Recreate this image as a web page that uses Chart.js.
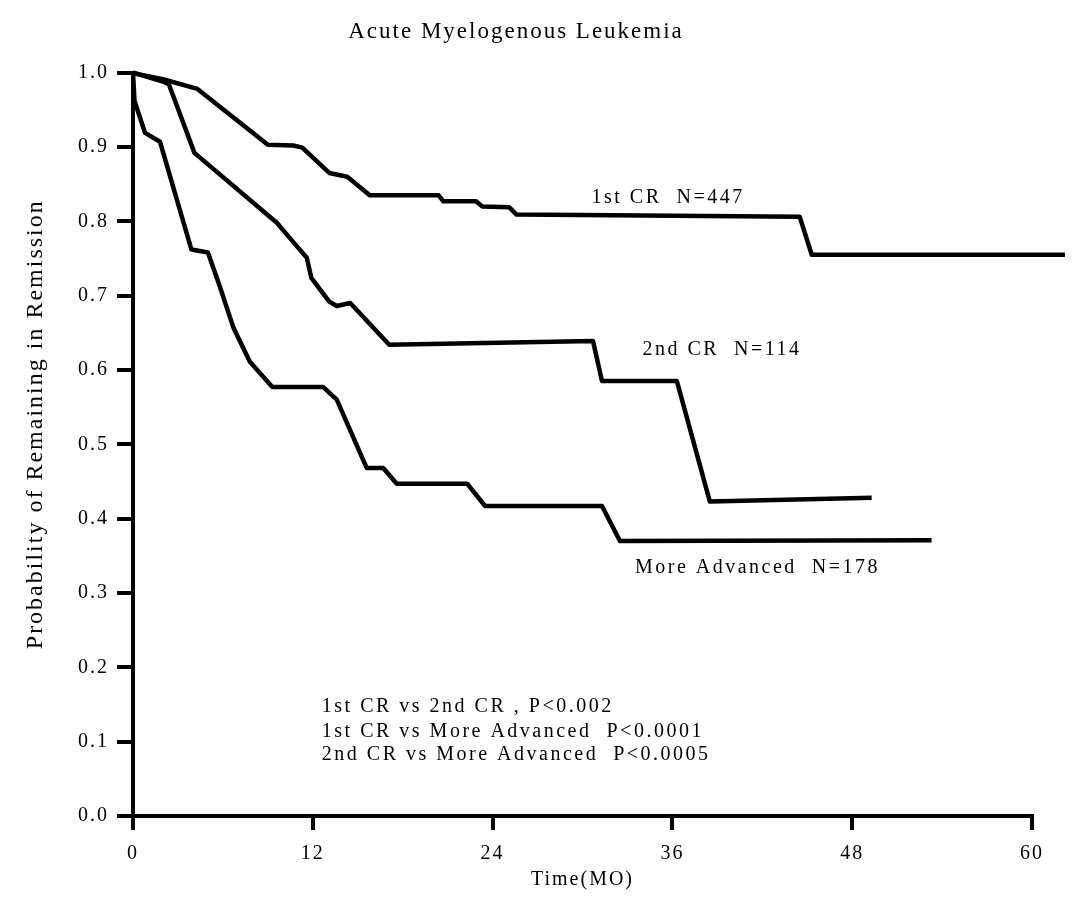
<!DOCTYPE html>
<html>
<head>
<meta charset="utf-8">
<script src="https://cdn.jsdelivr.net/npm/chart.js@4.4.1/dist/chart.umd.min.js"></script>
<style>
  html, body { margin: 0; padding: 0; background: #fff; }
  #wrap { width: 1072px; height: 904px; }
</style>
</head>
<body>
<div id="wrap"><canvas id="km"></canvas></div>
<script>
// months since transplant / probability of remaining in remission
const firstCrTime = [0, 0.5, 2.0, 4.3, 9.0, 10.7, 11.3, 13.1, 14.3, 15.8, 20.4, 20.7, 22.9, 23.3, 25.1, 25.6, 44.5, 45.3, 62.2];
const firstCrProb = [1.0, 0.997, 0.991, 0.978, 0.903, 0.902, 0.899, 0.865, 0.860, 0.835, 0.835, 0.827, 0.827, 0.820, 0.819, 0.809, 0.806, 0.755, 0.755];

const secondCrTime = [0, 2.0, 2.4, 4.1, 9.6, 10.7, 11.6, 11.9, 13.1, 13.6, 14.5, 17.1, 30.7, 31.3, 36.3, 38.5, 49.3];
const secondCrProb = [1.0, 0.988, 0.984, 0.892, 0.798, 0.772, 0.751, 0.724, 0.692, 0.686, 0.690, 0.634, 0.639, 0.585, 0.585, 0.423, 0.428];

const advTime = [0, 0.1, 0.8, 1.8, 3.9, 5.0, 5.8, 6.7, 7.8, 9.3, 12.7, 13.6, 15.6, 16.7, 17.6, 22.3, 23.5, 31.3, 32.5, 53.3];
const advProb = [1.0, 0.962, 0.919, 0.907, 0.762, 0.758, 0.712, 0.657, 0.611, 0.577, 0.577, 0.560, 0.468, 0.468, 0.447, 0.447, 0.417, 0.417, 0.370, 0.371];

const xTicks = [0, 12, 24, 36, 48, 60];
const yTicks = [0, 0.1, 0.2, 0.3, 0.4, 0.5, 0.6, 0.7, 0.8, 0.9, 1.0];

const curveLabels = ['1st CR  N=447', '2nd CR  N=114', 'More Advanced  N=178'];
const curveLabelAt = [[30.6, 0.832], [34.0, 0.627], [33.5, 0.334]];

const pValueLines = [
  '1st CR vs 2nd CR , P<0.002',
  '1st CR vs More Advanced  P<0.0001',
  '2nd CR vs More Advanced  P<0.0005'
];
const pValueAt = [[12.6, 0.147], [12.6, 0.114], [12.6, 0.082]];

const serif = '"Liberation Serif", "Times New Roman", serif';

function pts(t, p) {
  return t.map((v, i) => ({ x: v, y: p[i] }));
}

function curve(label, t, p) {
  return {
    label: label,
    data: pts(t, p),
    showLine: true,
    borderColor: '#000',
    borderWidth: 4.5,
    pointRadius: 0,
    fill: false,
    tension: 0,
    clip: false,
    borderJoinStyle: 'round'
  };
}

const notes = {
  id: 'notes',
  beforeDraw(chart) {
    chart.ctx.letterSpacing = '2px';
  },
  afterDatasetsDraw(chart) {
    const ctx = chart.ctx;
    const x = chart.scales.x, y = chart.scales.y;
    ctx.save();
    ctx.fillStyle = '#000';
    ctx.letterSpacing = '2.5px';
    ctx.font = '20px ' + serif;
    ctx.textAlign = 'left';
    ctx.textBaseline = 'middle';
    curveLabels.forEach((s, i) => {
      ctx.fillText(s, x.getPixelForValue(curveLabelAt[i][0]), y.getPixelForValue(curveLabelAt[i][1]));
    });
    pValueLines.forEach((s, i) => {
      ctx.fillText(s, x.getPixelForValue(pValueAt[i][0]), y.getPixelForValue(pValueAt[i][1]));
    });

    // y axis title, a bit above the middle as in the original
    ctx.letterSpacing = '2px';
    ctx.font = '24px ' + serif;
    ctx.textAlign = 'center';
    ctx.translate(36, y.getPixelForValue(0.527));
    ctx.rotate(-Math.PI / 2);
    ctx.fillText('Probability of Remaining in Remission', 0, 0);
    ctx.restore();
  }
};

new Chart(document.getElementById('km'), {
  type: 'scatter',
  data: {
    datasets: [
      curve('1st CR', firstCrTime, firstCrProb),
      curve('2nd CR', secondCrTime, secondCrProb),
      curve('More Advanced', advTime, advProb)
    ]
  },
  options: {
    responsive: true,
    maintainAspectRatio: false,
    animation: false,
    layout: { padding: { left: 0, right: 40, top: 0, bottom: 0 } },
    plugins: {
      legend: { display: false },
      tooltip: { enabled: false },
      title: {
        display: true,
        text: 'Acute Myelogenous Leukemia',
        color: '#000',
        font: { family: serif, size: 23, weight: 'normal' },
        padding: { top: 18, bottom: 27 }
      }
    },
    scales: {
      x: {
        type: 'linear',
        min: 0,
        max: 60,
        afterFit(s) { s.height = 88; },
        afterBuildTicks(s) { s.ticks = xTicks.map(v => ({ value: v })); },
        border: { display: true, color: '#000', width: 4 },
        grid: { drawOnChartArea: false, color: '#000', lineWidth: 4, tickLength: 14 },
        ticks: {
          color: '#000',
          padding: 12,
          maxRotation: 0,
          font: { family: serif, size: 20 }
        },
        title: {
          display: true,
          text: 'Time(MO)',
          color: '#000',
          font: { family: serif, size: 20 },
          padding: { top: 0, bottom: 12 }
        }
      },
      y: {
        min: 0,
        max: 1,
        afterFit(s) { s.width = 133; },
        afterBuildTicks(s) { s.ticks = yTicks.map(v => ({ value: v })); },
        border: { display: true, color: '#000', width: 4 },
        grid: { drawOnChartArea: false, color: '#000', lineWidth: 4, tickLength: 16 },
        ticks: {
          color: '#000',
          padding: 8,
          font: { family: serif, size: 20 },
          callback: v => v.toFixed(1)
        }
      }
    }
  },
  plugins: [notes]
});
</script>
</body>
</html>
